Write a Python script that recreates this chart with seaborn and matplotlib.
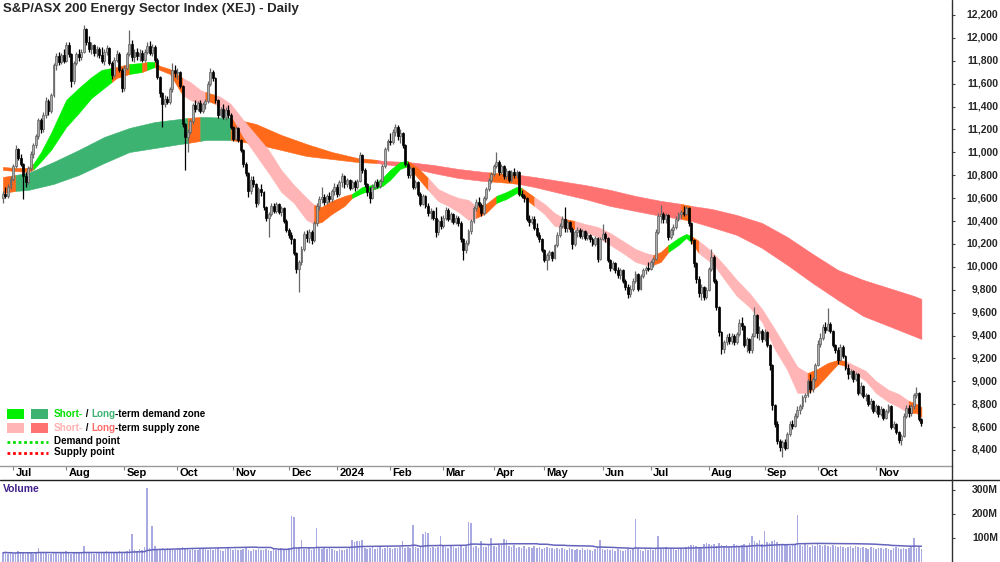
import matplotlib
matplotlib.use("Agg")
import matplotlib.pyplot as plt
from matplotlib.lines import Line2D
from matplotlib.patches import Rectangle
from matplotlib import transforms
import numpy as np
import pandas as pd
import seaborn as sns

# daily bars (index points)
opens = [10600,10640,10620,10700,10770,10880,11030,10950,10900,10790,
 10740,10860,10990,11060,11140,11280,11200,11330,11450,11360,
 11500,11760,11840,11790,11850,11800,11940,11860,11620,11780,
 11860,11830,11880,12080,11960,11900,11940,11870,11900,11850,
 11800,11880,11910,11780,11680,11810,11860,11720,11560,11740,
 11860,11950,11830,11880,11840,11870,11810,11880,11930,11870,
 11920,11810,11660,11520,11420,11470,11440,11550,11720,11690,
 11700,11580,11250,11130,11180,11270,11410,11380,11430,11360,
 11420,11450,11600,11700,11650,11460,11330,11380,11310,11370,
 11330,11220,11120,11210,11110,11020,10900,10820,10660,10760,
 10720,10560,10680,10650,10520,10430,10460,10530,10490,10550,
 10480,10510,10400,10320,10280,10240,10120,9980,10040,10160,
 10290,10250,10300,10230,10380,10530,10590,10610,10570,10620,
 10590,10660,10700,10640,10740,10790,10720,10760,10690,10740,
 10700,10750,10980,10850,10720,10650,10600,10700,10740,10710,
 10750,10880,11030,11100,11090,11180,11220,11140,11170,11060,
 10900,10800,10860,10700,10740,10640,10550,10620,10530,10470,
 10490,10430,10300,10400,10360,10430,10500,10420,10460,10390,
 10430,10380,10240,10150,10210,10310,10400,10510,10570,10540,
 10470,10600,10680,10760,10810,10880,10920,10830,10880,10790,
 10840,10760,10830,10800,10830,10640,10620,10600,10420,10390,
 10420,10340,10280,10240,10150,10060,10100,10130,10080,10190,
 10280,10360,10420,10340,10390,10330,10200,10300,10320,10270,
 10310,10250,10280,10240,10200,10250,10070,10240,10290,10250,
 10060,9990,10030,9970,9930,9970,9880,9820,9760,9810,
 9880,9940,9810,9920,9970,9990,9980,10040,10070,10300,
 10440,10460,10420,10450,10260,10320,10350,10420,10460,10480,
 10460,10510,10380,10230,10030,9890,9770,9820,9740,9800,
 9980,10090,9880,9650,9430,9280,9340,9390,9350,9400,
 9340,9410,9510,9480,9320,9370,9270,9400,9580,9420,
 9440,9370,9430,9320,9140,8790,8630,8480,8430,8470,
 8420,8540,8630,8610,8700,8750,8780,8860,8880,9000,
 8930,9020,9140,9330,9380,9470,9450,9500,9440,9320,
 9270,9190,9300,9220,9120,9060,9090,9020,9060,8900,
 8960,8870,8880,8800,8830,8740,8780,8710,8760,8680,
 8740,8780,8600,8630,8560,8490,8520,8700,8770,8720,
 8780,8880,8900,8670]

highs = [10660,10700,10720,10790,10900,11060,11040,10990,10910,10830,
 10880,11010,11080,11160,11300,11300,11350,11480,11470,11520,
 11780,11870,11880,11870,11900,11960,11960,11870,11800,11880,
 11900,11900,12110,12090,12020,11960,11950,11930,11920,11920,
 11900,11940,11920,11800,11830,11890,11880,11740,11760,11880,
 12070,11980,11900,11910,11900,11890,11900,11960,11970,11950,
 11940,11820,11670,11530,11500,11490,11570,11780,11760,11740,
 11710,11590,11260,11200,11290,11430,11460,11450,11460,11440,
 11470,11620,11740,11720,11660,11470,11400,11420,11400,11410,
 11340,11230,11230,11220,11120,11030,10920,10830,10790,10790,
 10730,10700,10720,10660,10530,10480,10560,10560,10570,10560,
 10530,10520,10420,10340,10300,10250,10130,10060,10180,10310,
 10320,10330,10320,10400,10560,10620,10700,10640,10640,10650,
 10680,10730,10720,10760,10820,10800,10780,10770,10760,10760,
 10770,11000,10990,10860,10730,10700,10720,10760,10770,10770,
 10900,11050,11120,11170,11200,11250,11240,11200,11180,11070,
 10920,10880,10870,10760,10750,10650,10640,10630,10560,10510,
 10500,10520,10420,10440,10450,10520,10510,10480,10470,10450,
 10440,10400,10250,10230,10330,10420,10530,10590,10610,10560,
 10620,10700,10780,10830,10900,11000,10930,10900,10890,10860,
 10850,10850,10860,10850,10840,10670,10640,10610,10450,10440,
 10440,10380,10300,10250,10160,10120,10150,10140,10200,10300,
 10380,10440,10520,10410,10400,10350,10320,10350,10340,10330,
 10320,10300,10290,10260,10270,10260,10260,10370,10300,10260,
 10070,10050,10040,10000,9990,9980,9890,9850,9840,9900,
 9960,9950,9940,9990,10010,10040,10060,10090,10330,10470,
 10540,10480,10470,10460,10340,10370,10440,10480,10500,10530,
 10530,10520,10390,10240,10040,9920,9850,9830,9820,10000,
 10160,10100,9890,9660,9440,9360,9410,9420,9420,9410,
 9430,9540,9560,9490,9390,9380,9420,9650,9590,9480,
 9460,9460,9440,9330,9150,8800,8650,8500,8490,8500,
 8560,8650,8660,8720,8780,8800,8880,8900,9020,9060,
 9040,9160,9360,9420,9500,9520,9640,9520,9450,9330,
 9300,9330,9320,9230,9150,9110,9100,9080,9070,8990,
 8970,8900,8890,8850,8840,8800,8790,8780,8770,8760,
 8800,8790,8650,8640,8570,8540,8720,8790,8790,8800,
 8900,8950,8910,8680]

lows = [10560,10600,10600,10680,10750,10860,10930,10880,10590,10700,
 10720,10840,10950,11040,11120,11170,11180,11300,11330,11340,
 11480,11720,11760,11770,11780,11790,11830,11570,11600,11760,
 11800,11810,11870,11940,11880,11860,11840,11830,11820,11780,
 11760,11850,11760,11640,11660,11790,11700,11530,11540,11720,
 11840,11800,11790,11810,11800,11790,11790,11860,11850,11840,
 11790,11640,11480,11220,11400,11420,11420,11530,11660,11640,
 11560,11220,10850,11000,11160,11250,11350,11360,11340,11340,
 11380,11430,11580,11620,11430,11300,11310,11290,11280,11300,
 11200,11100,11110,11090,11000,10870,10790,10610,10640,10700,
 10520,10540,10620,10500,10400,10260,10440,10470,10470,10460,
 10440,10380,10300,10250,10200,10100,9950,9780,10020,10140,
 10220,10210,10200,10220,10360,10500,10560,10540,10550,10570,
 10570,10630,10610,10620,10700,10690,10700,10670,10680,10660,
 10680,10740,10820,10700,10620,10560,10590,10680,10690,10690,
 10740,10860,11010,11060,11070,11140,11110,11080,11040,10880,
 10780,10780,10680,10680,10620,10530,10540,10510,10440,10420,
 10410,10260,10280,10330,10340,10410,10400,10390,10370,10370,
 10360,10220,10060,10120,10190,10290,10380,10490,10520,10440,
 10450,10580,10660,10730,10790,10860,10800,10810,10770,10770,
 10740,10740,10780,10780,10620,10600,10570,10400,10360,10370,
 10320,10260,10220,10130,10040,9975,10060,10050,10070,10170,
 10260,10340,10300,10300,10300,10160,10180,10260,10250,10240,
 10230,10230,10220,10180,10180,10040,10060,10230,10220,10040,
 9960,9970,9950,9900,9890,9860,9800,9730,9740,9790,
 9860,9790,9800,9900,9940,9960,9970,10000,10060,10290,
 10380,10380,10380,10230,10240,10280,10330,10400,10430,10440,
 10450,10360,10200,10000,9860,9740,9710,9710,9720,9790,
 9960,9860,9620,9400,9240,9250,9320,9330,9330,9320,
 9330,9400,9450,9300,9260,9250,9250,9390,9380,9360,
 9340,9350,9300,9100,8750,8600,8450,8390,8340,8400,
 8410,8520,8580,8600,8680,8710,8760,8820,8860,8900,
 8910,9000,9130,9300,9360,9420,9440,9420,9300,9250,
 9150,9180,9200,9100,9020,9030,8990,9000,8880,8880,
 8850,8830,8780,8760,8720,8720,8690,8700,8660,8670,
 8720,8580,8580,8540,8460,8440,8510,8680,8690,8700,
 8760,8850,8650,8610]

closes = [10640,10620,10700,10770,10880,11030,10950,10900,10790,10740,
 10860,10990,11060,11140,11280,11200,11330,11450,11360,11500,
 11760,11840,11790,11850,11800,11940,11860,11620,11780,11860,
 11830,11880,12080,11960,11900,11940,11870,11900,11850,11800,
 11880,11910,11780,11680,11810,11860,11720,11560,11740,11860,
 11950,11830,11880,11840,11870,11810,11880,11930,11870,11920,
 11810,11660,11520,11420,11470,11440,11550,11720,11690,11700,
 11580,11250,11130,11180,11270,11410,11380,11430,11360,11420,
 11450,11600,11700,11650,11460,11330,11380,11310,11370,11330,
 11220,11120,11210,11110,11020,10900,10820,10660,10760,10720,
 10560,10680,10650,10520,10430,10460,10530,10490,10550,10480,
 10510,10400,10320,10280,10240,10120,9980,10040,10160,10290,
 10250,10300,10230,10380,10530,10590,10610,10570,10620,10590,
 10660,10700,10640,10740,10790,10720,10760,10690,10740,10700,
 10750,10980,10850,10720,10650,10600,10700,10740,10710,10750,
 10880,11030,11100,11090,11180,11220,11140,11170,11060,10900,
 10800,10860,10700,10740,10640,10550,10620,10530,10470,10490,
 10430,10300,10400,10360,10430,10500,10420,10460,10390,10430,
 10380,10240,10150,10210,10310,10400,10510,10570,10540,10470,
 10600,10680,10760,10810,10880,10920,10830,10880,10790,10840,
 10760,10830,10800,10830,10640,10620,10600,10420,10390,10420,
 10340,10280,10240,10150,10060,10100,10130,10080,10190,10280,
 10360,10420,10340,10390,10330,10200,10300,10320,10270,10310,
 10250,10280,10240,10200,10250,10070,10240,10290,10250,10060,
 9990,10030,9970,9930,9970,9880,9820,9760,9810,9880,
 9940,9810,9920,9970,9990,9980,10040,10070,10300,10440,
 10460,10420,10450,10260,10320,10350,10420,10460,10480,10460,
 10510,10380,10230,10030,9890,9770,9820,9740,9800,9980,
 10090,9880,9650,9430,9280,9340,9390,9350,9400,9340,
 9410,9510,9480,9320,9370,9270,9400,9580,9420,9440,
 9370,9430,9320,9140,8790,8630,8480,8430,8470,8420,
 8540,8630,8610,8700,8750,8780,8860,8880,9000,8930,
 9020,9140,9330,9380,9470,9450,9500,9440,9320,9270,
 9190,9300,9220,9120,9060,9090,9020,9060,8900,8960,
 8870,8880,8800,8830,8740,8780,8710,8760,8680,8740,
 8780,8600,8630,8560,8490,8520,8700,8770,8720,8780,
 8880,8900,8670,8640]

# volume in millions
volumes = [38,42,35,40,33,36,44,38,41,35,39,37,34,42,57,38,36,40,35,33,
 37,41,35,39,36,44,38,34,40,37,42,39,66,41,36,38,35,43,40,37,
 39,45,36,42,38,40,44,37,41,47,52,116,48,45,55,50,62,307,58,150,
 68,55,52,60,48,57,53,50,49,58,55,62,60,54,51,56,50,48,53,57,
 52,49,55,51,54,58,50,47,53,56,52,49,55,51,48,53,57,50,46,52,
 49,55,51,48,54,50,47,53,49,52,56,50,54,60,190,185,58,62,90,55,
 52,57,50,54,140,56,53,60,55,58,52,49,46,54,51,48,55,58,90,84,
 88,86,92,60,55,58,62,54,57,61,55,59,63,57,52,60,56,62,88,58,
 64,60,153,62,58,66,115,125,120,60,64,58,62,108,70,63,59,66,61,57,
 63,68,60,65,165,160,62,66,58,88,64,61,70,100,67,63,72,69,95,92,
 66,62,70,58,64,60,67,55,62,59,65,57,61,54,58,63,56,60,53,57,
 52,58,55,50,56,53,49,55,51,57,48,54,50,46,52,56,90,53,49,55,
 48,52,47,53,50,45,51,55,49,53,180,56,50,47,52,48,54,51,57,108,
 60,55,62,58,53,57,50,54,59,56,61,66,70,72,68,64,59,76,80,73,
 69,74,66,78,72,65,70,62,68,75,71,64,69,73,66,80,108,86,77,90,
 74,128,83,79,88,92,81,76,70,74,72,68,75,71,195,70,66,73,69,64,
 71,67,74,69,65,72,68,63,70,66,61,67,64,58,63,68,60,65,62,57,
 63,59,55,61,57,53,60,56,52,58,54,50,56,62,58,53,60,55,59,64,
 100,58,62,55]

# short-term ribbon edges (sampled at bar index)
short_idx = [0,5,10,12,15,19,25,30,35,39,43,45,50,55,57,60,62,66,71,74,
 78,80,84,86,90,95,100,105,110,115,120,123,126,130,135,138,142,146,150,153,
 157,160,164,168,172,176,180,184,187,191,195,199,203,205,210,214,218,222,226,230,
 235,240,245,250,254,257,260,263,267,270,272,275,278,281,285,290,295,300,305,310,
 314,318,322,326,330,333,337,341,345,350,354,358,361,363]
short_top = [10872,10864,10864,10900,11000,11169,11458,11563,11658,11720,11737,11746,11772,11781,11790,11790,11755,11728,11650,11615,
 11545,11527,11501,11484,11423,11283,11152,11021,10846,10715,10602,10541,10523,10576,10619,10637,10698,10715,10776,10846,
 10916,10925,10864,10776,10680,10637,10602,10584,10532,10550,10619,10654,10698,10689,10610,10550,10471,10419,10401,10375,
 10349,10296,10226,10156,10121,10104,10130,10191,10252,10287,10270,10226,10174,10113,10017,9886,9772,9632,9457,9274,
 9126,9073,9108,9160,9187,9178,9134,9091,9003,8925,8890,8829,8803,8776]
short_bot = [10846,10837,10829,10850,10920,11021,11222,11344,11475,11545,11615,11650,11685,11702,11720,11746,11720,11685,11501,11458,
 11423,11458,11423,11388,11327,11134,10977,10820,10654,10558,10410,10375,10392,10462,10532,10602,10645,10672,10706,10759,
 10855,10881,10777,10672,10575,10532,10480,10410,10427,10471,10558,10593,10645,10619,10532,10462,10358,10340,10331,10305,
 10262,10191,10121,10043,10017,10017,10043,10130,10191,10252,10217,10121,10069,10017,9894,9746,9650,9519,9283,9099,
 8899,8899,8960,9056,9152,9134,9065,9003,8899,8820,8776,8724,8724,8689]
short_zone_start = [0,12,43,50,55,57,60,71,80,84,123,138,160,168,187,195,205,210,222,226,257,263,272,275,318,333,358]
short_zone_end = [12,43,50,55,57,60,71,80,84,123,138,160,168,187,195,205,210,222,226,257,263,272,275,318,333,358,363]
short_zone_kind = ['mix','st_demand','mix','st_demand','mix','st_demand','mix','st_supply','mix','st_supply',
 'mix','st_demand','mix','st_supply','mix','st_demand','mix','st_supply','mix','st_supply',
 'mix','st_demand','mix','st_supply','mix','st_supply','mix']

# long-term ribbon edges
long_idx = [0,5,10,20,30,40,50,60,70,73,78,80,90,100,110,120,130,140,148,150,
 160,170,180,190,192,200,204,210,220,230,240,250,260,268,270,272,280,290,300,310,
 320,330,340,350,360,363]
long_top = [10785,10803,10820,10916,11021,11134,11213,11265,11292,11300,11309,11309,11300,11248,11152,11073,11003,10951,10934,10925,
 10916,10890,10855,10829,10825,10811,10803,10785,10750,10715,10672,10619,10576,10550,10541,10532,10506,10453,10383,10261,
 10113,9973,9886,9816,9746,9720]
long_bot = [10645,10663,10672,10724,10803,10907,11003,11038,11073,11082,11100,11108,11108,11073,11021,10968,10942,10916,10907,10899,
 10872,10820,10776,10750,10748,10733,10724,10698,10645,10593,10532,10488,10445,10419,10410,10401,10348,10279,10165,10017,
 9859,9711,9571,9484,9396,9370]
long_zone_start = [0,5,73,78,90,148,192,204,268,272]
long_zone_end = [5,73,78,90,148,192,204,268,272,363]
long_zone_kind = ['mix','lt_demand','mix','lt_demand','mix','lt_supply','mix','lt_supply','mix','lt_supply']

asx_holidays = ['2023-12-25','2023-12-26','2024-01-01','2024-01-26',
                '2024-03-29','2024-04-01','2024-04-25','2024-06-10']

zone_colors = {'st_demand': '#00f000', 'lt_demand': '#3cb371',
               'st_supply': '#ffb5b5', 'lt_supply': '#ff7272', 'mix': '#ff6a1a'}

n = len(closes)
assert len(opens) == n and len(highs) == n and len(lows) == n and len(volumes) == n
dates = pd.bdate_range('2023-06-27', periods=n, freq='C', holidays=asx_holidays)
x = np.arange(n)
o, h, l, c = (np.array(v, dtype=float) for v in (opens, highs, lows, closes))

sns.set_theme(style='white')
plt.rcParams['font.family'] = ['Liberation Sans', 'DejaVu Sans']
plt.rcParams['font.weight'] = 'bold'

W, H = 1000, 562
fig = plt.figure(figsize=(W / 100, H / 100), dpi=100)
ax = fig.add_axes([0, 1 - 466 / H, 952 / W, 466 / H])
axv = fig.add_axes([0, 0, 952 / W, 82 / H], sharex=ax)


def draw_band(idx, top, bot, starts, ends, kinds, z):
    idx, top, bot = np.array(idx), np.array(top), np.array(bot)
    for a, b, k in zip(starts, ends, kinds):
        m = (idx >= a) & (idx <= b)
        ax.fill_between(idx[m], bot[m], top[m], color=zone_colors[k],
                        lw=0.4, edgecolor=zone_colors[k], zorder=z)


draw_band(long_idx, long_top, long_bot, long_zone_start, long_zone_end, long_zone_kind, 1)
draw_band(short_idx, short_top, short_bot, short_zone_start, short_zone_end, short_zone_kind, 2)

# candles
up = c >= o
ax.vlines(x[up], l[up], h[up], color='#666666', lw=0.9, zorder=3)
ax.vlines(x[~up], l[~up], h[~up], color='#000000', lw=0.9, zorder=3)
ax.bar(x[up], (c - o)[up], bottom=o[up], width=0.75, color='#acacac',
       edgecolor='#5e5e5e', lw=0.5, zorder=4)
ax.bar(x[~up], (o - c)[~up], bottom=c[~up], width=0.75, color='#000000',
       edgecolor='#000000', lw=0.5, zorder=4)

ax.set_xlim(-1.15, 375.1)
ax.set_ylim(8260, 12331)

# volume panel
axv.bar(x, volumes, width=0.62, color='#aaaae2', lw=0)
vol_ma = pd.Series(volumes, dtype=float).rolling(50, min_periods=1).mean()
sns.lineplot(x=x, y=vol_ma.values, ax=axv, color='#6464bc', lw=1.1)
axv.set_ylim(0, 340)

for a in (ax, axv):
    for s in ('left', 'top', 'right', 'bottom'):
        a.spines[s].set_visible(False)
    a.set_facecolor('white')
ax.spines['bottom'].set_visible(True)
ax.spines['bottom'].set_color('#9a9a9a')
ax.spines['bottom'].set_linewidth(1)

# month ticks
month_pos = [i for i in range(1, n) if dates[i].month != dates[i - 1].month]
month_lab = ['2024' if dates[i].month == 1 else dates[i].strftime('%b') for i in month_pos]
ax.set_xticks(month_pos)
ax.tick_params(axis='x', bottom=True, length=3, width=0.8, color='#808080',
               direction='out', labelbottom=False)
axv.tick_params(axis='x', bottom=False, labelbottom=False)
for p, lab in zip(month_pos, month_lab):
    ax.text(p + 0.9, -7 / 466, lab, transform=ax.get_xaxis_transform(),
            ha='left', va='center', fontsize=8, fontweight='bold', color='black')

# right-hand price and volume scales
price_ticks = list(range(8400, 12201, 200))
ax.set_yticks(price_ticks)
ax.tick_params(axis='y', left=False, right=True, length=2.5, width=0.8,
               color='#444444', labelleft=False, labelright=False)
tr = transforms.blended_transform_factory(fig.transFigure, ax.transData)
for v in price_ticks:
    ax.text(998 / W, v, f'{v:,}', transform=tr, ha='right', va='center',
            fontsize=7.5, fontweight='bold')

vol_ticks = [100, 200, 300]
axv.set_yticks(vol_ticks)
axv.tick_params(axis='y', left=False, right=True, length=2.5, width=0.8,
                color='#444444', labelleft=False, labelright=False)
trv = transforms.blended_transform_factory(fig.transFigure, axv.transData)
for v in vol_ticks:
    axv.text(998 / W, v, f'{v}M', transform=trv, ha='right', va='center',
             fontsize=7.5, fontweight='bold')

# frame lines
fig.add_artist(Line2D([0, 1], [1 - 480 / H] * 2, transform=fig.transFigure,
                      color='#202020', lw=1))
fig.add_artist(Line2D([952 / W] * 2, [0, 1], transform=fig.transFigure,
                      color='#303030', lw=1))

# titles
fig.text(3 / W, 1 - 9 / H, 'S&P/ASX 200 Energy Sector Index (XEJ) - Daily',
         ha='left', va='center', fontsize=9.5, fontweight='bold')
fig.text(3 / W, 1 - 489 / H, 'Volume', ha='left', va='center', fontsize=7.5,
         fontweight='bold', color='#40208a')


# legend
def rect_px(x0, y0, w, hgt, col):
    fig.add_artist(Rectangle((x0 / W, 1 - (y0 + hgt) / H), w / W, hgt / H,
                             transform=fig.transFigure, color=col, lw=0))


def rich_text(x0, y0, pieces, size=7.1):
    t = fig.text(x0 / W, 1 - y0 / H, pieces[0][0], color=pieces[0][1],
                 fontsize=size, fontweight='bold', ha='left', va='center')
    for s, col in pieces[1:]:
        t = ax.annotate(s, xy=(1, 0.5), xycoords=t, ha='left', va='center',
                        color=col, fontsize=size, fontweight='bold',
                        annotation_clip=False)


rect_px(7, 409, 17, 10, zone_colors['st_demand'])
rect_px(31, 409, 17, 10, zone_colors['lt_demand'])
rich_text(54, 414, [('Short-', '#00e000'), (' / ', 'black'), ('Long', '#3cb371'),
                    ('-term demand zone', 'black')])
rect_px(7, 423, 17, 10, zone_colors['st_supply'])
rect_px(31, 423, 17, 10, zone_colors['lt_supply'])
rich_text(54, 428, [('Short-', '#ffb0b0'), (' / ', 'black'), ('Long', '#ff6a6a'),
                    ('-term supply zone', 'black')])
fig.add_artist(Line2D([7 / W, 48 / W], [1 - 442 / H] * 2, transform=fig.transFigure,
                      color='#00e000', lw=2, linestyle=(0, (1, 1))))
rich_text(54, 441, [('Demand point', 'black')])
fig.add_artist(Line2D([7 / W, 48 / W], [1 - 453 / H] * 2, transform=fig.transFigure,
                      color='#ff0000', lw=2, linestyle=(0, (1, 1))))
rich_text(54, 452, [('Supply point', 'black')])

fig.savefig('out.png', dpi=100, facecolor='white')
